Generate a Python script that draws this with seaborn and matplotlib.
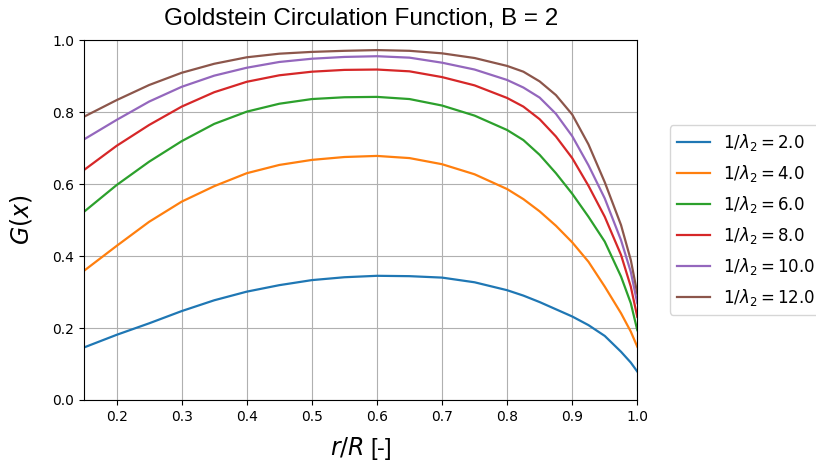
import matplotlib
matplotlib.use("Agg")
import matplotlib.pyplot as plt
import seaborn as sns
import pandas as pd

# Radial stations r/R
r_over_R = [0.15, 0.20, 0.25, 0.30, 0.35, 0.40, 0.45, 0.50, 0.55, 0.60, 0.65,
            0.70, 0.75, 0.80, 0.825, 0.85, 0.875, 0.90, 0.925, 0.95, 0.975, 0.99, 1.00]

# Inverse advance ratio values (1/lambda_2)
inv_lambda = [2.0, 4.0, 6.0, 8.0, 10.0, 12.0]

# Goldstein circulation G(x) per 1/lambda_2
G_2 = [0.146, 0.181, 0.213, 0.247, 0.277, 0.301, 0.319, 0.333, 0.341, 0.345, 0.344,
       0.340, 0.327, 0.305, 0.290, 0.272, 0.252, 0.232, 0.208, 0.178, 0.134, 0.104, 0.079]
G_4 = [0.359, 0.428, 0.495, 0.551, 0.594, 0.630, 0.653, 0.667, 0.675, 0.678, 0.672,
       0.655, 0.627, 0.586, 0.558, 0.524, 0.484, 0.438, 0.384, 0.315, 0.241, 0.190, 0.148]
G_6 = [0.523, 0.597, 0.662, 0.719, 0.767, 0.801, 0.823, 0.836, 0.841, 0.842, 0.836,
       0.818, 0.790, 0.750, 0.722, 0.681, 0.630, 0.573, 0.509, 0.440, 0.343, 0.269, 0.194]
G_8 = [0.639, 0.706, 0.764, 0.815, 0.855, 0.884, 0.902, 0.912, 0.917, 0.918, 0.913,
       0.897, 0.874, 0.839, 0.815, 0.780, 0.732, 0.672, 0.595, 0.509, 0.403, 0.315, 0.231]
G_10 = [0.724, 0.778, 0.829, 0.870, 0.901, 0.923, 0.939, 0.948, 0.953, 0.955, 0.951,
        0.937, 0.918, 0.889, 0.868, 0.840, 0.795, 0.733, 0.652, 0.560, 0.444, 0.356, 0.269]
G_12 = [0.787, 0.833, 0.875, 0.909, 0.934, 0.952, 0.962, 0.967, 0.970, 0.972, 0.970,
        0.963, 0.950, 0.928, 0.912, 0.885, 0.847, 0.793, 0.710, 0.605, 0.486, 0.389, 0.296]

series = [G_2, G_4, G_6, G_8, G_10, G_12]

rows = []
for lam, vals in zip(inv_lambda, series):
    label = r"$1/\lambda_2 = $" + f"${lam:.1f}$"
    for x, g in zip(r_over_R, vals):
        rows.append({"x": x, "G": g, "label": label})
df = pd.DataFrame(rows)

fig = plt.figure(figsize=(8.16, 4.68), dpi=100)
ax = fig.add_axes([0.103, 0.1453, 0.678, 0.7692])

sns.lineplot(data=df, x="x", y="G", hue="label", palette="tab10",
             linewidth=1.6, ax=ax)

ax.set_xlim(0.15, 1.0)
ax.set_ylim(0.0, 1.0)
ax.grid(True, color="#b0b0b0", linewidth=0.8)
ax.tick_params(labelsize=10)

ax.set_title("Goldstein Circulation Function, B = 2",
             fontsize=17.5, family="Liberation Sans", pad=11)
ax.set_xlabel(r"$r/R$ [-]", fontsize=17, family="Liberation Sans", labelpad=8)
ax.set_ylabel(r"$G(x)$", fontsize=17, labelpad=13)

ax.legend(loc="center left", bbox_to_anchor=(1.044, 0.5), fontsize=12,
          title=None, handlelength=2.0, borderpad=0.4, labelspacing=0.6)

fig.savefig("out.png", dpi=100)
